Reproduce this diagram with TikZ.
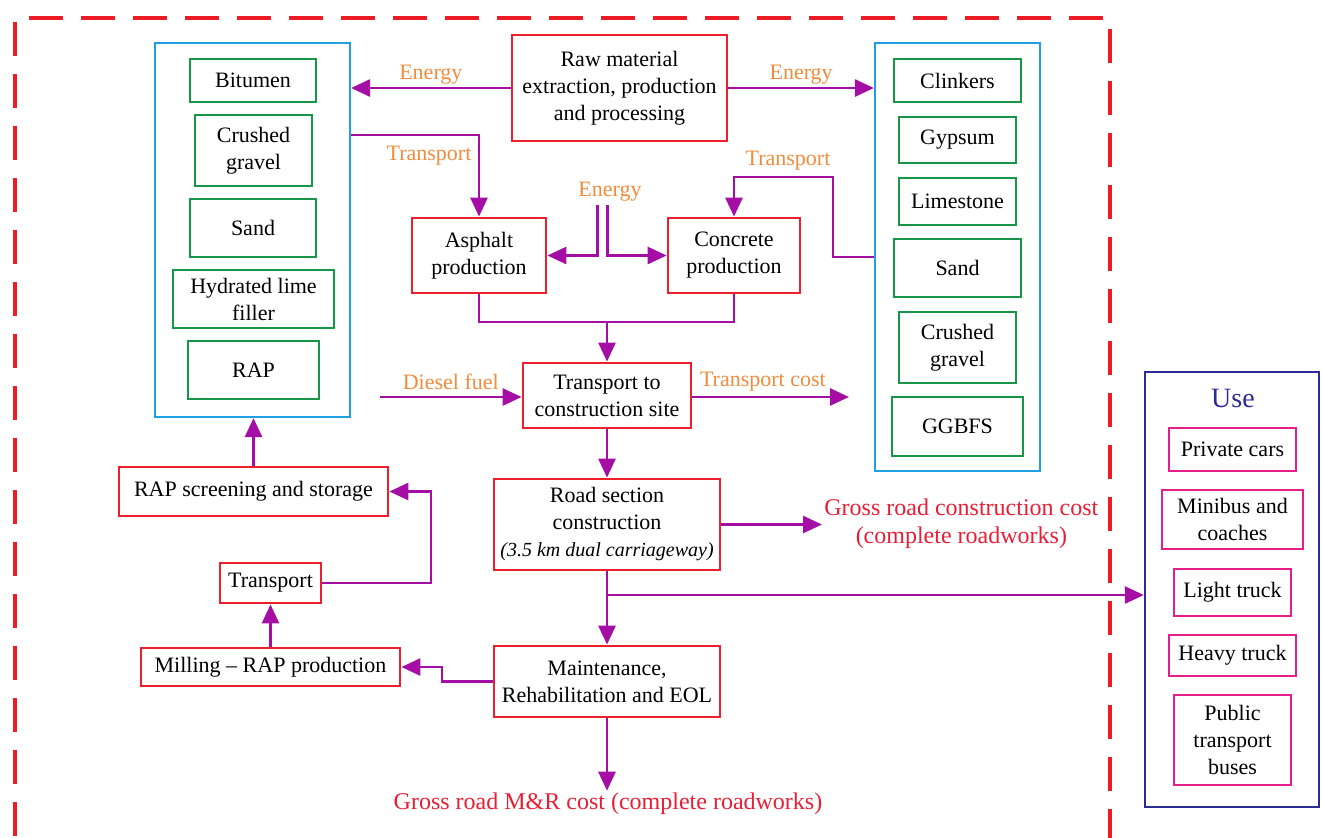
\documentclass[tikz,border=0pt]{standalone}
\usepackage{fontspec}
\setmainfont{Liberation Serif}
\usetikzlibrary{arrows.meta}
\definecolor{framered}{RGB}{237,28,36}
\definecolor{boxred}{RGB}{236,32,44}
\definecolor{matgreen}{RGB}{24,150,72}
\definecolor{groupblue}{RGB}{30,160,226}
\definecolor{flowmag}{RGB}{164,14,164}
\definecolor{lblorange}{RGB}{240,140,60}
\definecolor{usenavy}{RGB}{44,44,150}
\definecolor{usepink}{RGB}{230,30,140}
\definecolor{costred}{RGB}{232,30,52}
\tikzset{
	dims/.style args={#1:#2}{minimum width=#1pt, minimum height=#2pt},
	txt/.style={inner sep=0pt, align=center, font=\fontsize{11}{13.5}\selectfont},
	redbox/.style={txt, draw=boxred, line width=1.4pt},
	greenbox/.style={txt, draw=matgreen, line width=1.3pt},
	bluebox/.style={draw=groupblue, line width=1.1pt, inner sep=0pt},
	pinkbox/.style={txt, draw=usepink, line width=1.3pt},
	lbl/.style={text=lblorange, inner sep=1pt, font=\fontsize{11}{13}\selectfont},
	costlbl/.style={text=costred, inner sep=1pt, align=center, font=\fontsize{12}{14}\selectfont},
	link/.style={draw=flowmag, line width=1.4pt},
	flow/.style={link, -{Triangle[length=9.5pt,width=8.5pt]}},
	frame/.style={draw=framered, line width=2pt, dash pattern=on 17pt off 9pt}
}
\begin{document}
\begin{tikzpicture}[x=0.5pt,y=-0.5pt]
	\useasboundingbox (0,0) rectangle (1322,837);
	\draw[frame] (1110,843) -- (1110,18) -- (15,18) -- (15,843) -- cycle;
	
	\node[redbox, dims=107.5:53] (raw) at (619.5,88) {Raw material\\extraction, production\\and processing};
	\node[redbox, dims=67:37.5] (asphalt) at (479,255.5) {Asphalt\\production};
	\node[redbox, dims=66:37.5] (concrete) at (734,255.5) {Concrete\\production};
	\node[redbox, dims=84:32.5] (tsite) at (607,395.5) {Transport to\\construction site};
	\node[redbox, dims=113:45.5] (road) at (607,524.5) {Road section\\construction\\{\fontsize{10}{13.5}\selectfont\itshape (3.5 km dual carriageway)}};
	\node[redbox, dims=113:35.5] (maint) at (607,681.5) {Maintenance,\\Rehabilitation and EOL};
	\node[redbox, dims=129.5:19] (milling) at (270.5,667) {Milling -- RAP production};
	\node[redbox, dims=50.5:20] (transp) at (270.5,583) {Transport};
	\node[redbox, dims=134.5:24.5] (rapscr) at (253.5,491.5) {RAP screening and storage};
	
	\node[bluebox, dims=97.5:187] (bluel) at (252.5,230) {};
	\node[greenbox, dims=63:21.5] (bitumen) at (253,80.5) {Bitumen};
	\node[greenbox, dims=58.5:35.5] (gravelA) at (253.5,150.5) {Crushed\\gravel};
	\node[greenbox, dims=63:29] (sandA) at (253,228) {Sand};
	\node[greenbox, dims=80.5:29] (lime) at (253.5,299) {Hydrated lime\\filler};
	\node[greenbox, dims=65.5:29] (rap) at (253.5,370) {RAP};
	
	\node[bluebox, dims=82.5:214] (bluer) at (957.5,257) {};
	\node[greenbox, dims=63.5:21.5] (clinkers) at (957.5,80.5) {Clinkers};
	\node[greenbox, dims=58.5:23] (gypsum) at (957.5,140) {Gypsum};
	\node[greenbox, dims=58.5:23.5] (limestone) at (957.5,201.5) {Limestone};
	\node[greenbox, dims=63.5:29] (sandB) at (957.5,268) {Sand};
	\node[greenbox, dims=58.5:35.5] (gravelB) at (957.5,347.5) {Crushed\\gravel};
	\node[greenbox, dims=65.5:29.5] (ggbfs) at (957.5,426.5) {GGBFS};
	
	\node[draw=usenavy, line width=1.2pt, dims=87:217.5] (use) at (1232,589.5) {};
	\node[text=usenavy, font=\fontsize{14}{16}\selectfont] (usetitle) at (1233,398) {Use};
	\node[pinkbox, dims=63.5:21.5] (cars) at (1232.5,449.5) {Private cars};
	\node[pinkbox, dims=70.5:29.5] (minibus) at (1232.5,519.5) {Minibus and\\coaches};
	\node[pinkbox, dims=58.5:23.5] (light) at (1232.5,592.5) {Light truck};
	\node[pinkbox, dims=63.5:20.5] (heavy) at (1232.5,655.5) {Heavy truck};
	\node[pinkbox, dims=58.5:45] (bus) at (1232.5,740) {Public\\transport\\buses};
	
	\node[lbl] (transpL) at (429,156) {Transport};
	\node[lbl] (energyM) at (610,192) {Energy};
	\node[lbl] (transpR) at (788,161) {Transport};
	\node[costlbl, anchor=west] (grossC) at (822,523.5) {Gross road construction cost\\(complete roadworks)};
	\node[costlbl] (grossMR) at (608,804) {Gross road M\&R cost (complete roadworks)};
	\coordinate (diesel) at (380,397);
	\coordinate (tcost) at (849,397);
	
	\draw[flow] (raw.west) -- (raw.west -| bluel.east) node[lbl, midway, above=0pt] (energyL) {Energy};
	\draw[flow] (raw.east) -- (raw.east -| bluer.west) node[lbl, midway, above=0pt] (energyR) {Energy};
	\draw[flow] (bluel.east |- 0,135) -| (asphalt.north);
	\draw[flow] (597.5,205) |- (asphalt.east);
	\draw[flow] (607.5,205) |- (concrete.west);
	\draw[flow] (bluer.west |- 0,257) -- (833,257) |- (734,177) -- (concrete.north);
	\draw[link] (asphalt.south) |- (concrete.south |- 0,322) -- (concrete.south);
	\draw[flow] (tsite.north |- 0,322) -- (tsite.north);
	\draw[flow] (diesel) -- (tsite.west |- diesel) node[lbl, midway, above=2pt] (dieselL) {Diesel fuel};
	\draw[flow] (tsite.east |- tcost) -- (tcost) node[lbl, pos=0.45, above=1pt] (tcostL) {Transport cost};
	\draw[flow] (tsite.south) -- (road.north);
	\draw[flow] (road.east) -- (road.east -| grossC.west);
	\draw[flow] (road.south) -- (maint.north);
	\draw[flow] (road.south |- 0,595) -- (use.west |- 0,595);
	\draw[flow] (maint.south) -- (maint.south |- grossMR.north);
	\draw[flow] (maint.west) -- (442,681.5) |- (milling.east);
	\draw[flow] (milling.north) -- (transp.south);
	\draw[flow] (transp.east) -- (431,583) |- (rapscr.east);
	\draw[flow] (rapscr.north) -- (rapscr.north |- bluel.south);
\end{tikzpicture}
\end{document}
